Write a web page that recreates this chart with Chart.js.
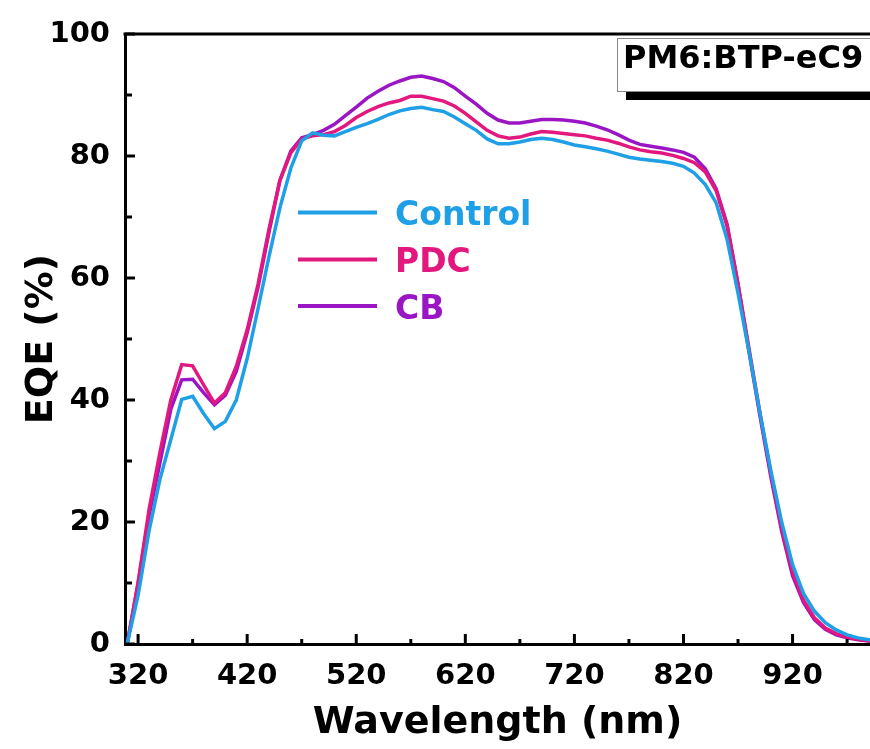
<!DOCTYPE html>
<html><head><meta charset="utf-8">
<script src="https://cdn.jsdelivr.net/npm/chart.js@4/dist/chart.umd.min.js"></script>
<style>html,body{margin:0;padding:0;background:#fff;overflow:hidden}#wrap{width:870px;height:749px;position:relative}</style>
</head><body><div id="wrap"><canvas id="c" width="870" height="749"></canvas></div>
<script>
const wavelengths = [310,320,330,340,350,360,370,380,390,400,410,420,430,440,450,460,470,480,490,500,510,520,530,540,550,560,570,580,590,600,610,620,630,640,650,660,670,680,690,700,710,720,730,740,750,760,770,780,790,800,810,820,830,840,850,860,870,880,890,900,910,920,930,940,950,960,970,980,990,1000];
const control = [0,8,18.5,27,33.5,40.1,40.6,37.8,35.3,36.5,40,46.8,55,63.5,71.5,78,82.5,83.8,83.4,83.3,84.0,84.7,85.3,86.0,86.8,87.4,87.8,88.0,87.6,87.3,86.4,85.3,84.2,82.8,82.0,82.0,82.3,82.7,82.9,82.7,82.3,81.8,81.5,81.2,80.8,80.3,79.8,79.5,79.3,79.1,78.8,78.3,77.2,75.3,72.3,66.3,57.5,48,38,28.5,20,13,8.3,5.4,3.5,2.3,1.5,1.0,0.7,0.5];
const pdc = [0,10,22,31.4,40,45.8,45.6,42.5,39.5,41.2,45.5,51.5,59,68,76,80.5,82.8,83.3,83.5,84.0,85.0,86.3,87.3,88.1,88.7,89.1,89.8,89.8,89.4,89.0,88.2,87.0,85.6,84.2,83.3,82.9,83.1,83.6,84.0,83.9,83.7,83.5,83.3,82.9,82.6,82.1,81.5,81.0,80.7,80.5,80.1,79.6,78.9,77.4,74.3,68.5,59,48.5,38,28,19,11.8,7.2,4.3,2.6,1.7,1.1,0.8,0.5,0.4];
const cb = [0,10,21,29.7,38.5,43.3,43.4,41.2,39.2,40.8,44.7,51,58.5,67.5,76,80.8,83,83.5,84.2,85.2,86.6,88.0,89.5,90.6,91.6,92.3,92.9,93.1,92.7,92.2,91.2,89.8,88.5,87.0,85.9,85.4,85.4,85.7,86.0,86.0,85.9,85.7,85.4,84.9,84.3,83.5,82.6,81.9,81.6,81.3,81.0,80.6,79.8,77.9,74.6,68.8,59,48,37.5,27.5,18.5,11.2,6.8,4.0,2.4,1.5,1.0,0.7,0.5,0.4];
const seriesNames = ['Control','PDC','CB'];
const seriesColors = ['#1E9FE6','#E2187E','#9A16C4'];
const xTickValues = [320,420,520,620,720,820,920];
const yTickValues = [0,20,40,60,80,100];
const xTitle = 'Wavelength (nm)';
const yTitle = 'EQE (%)';
const sampleLabel = 'PM6:BTP-eC9';

const FONT = "'DejaVu Sans', sans-serif";
const seriesValues = [control, pdc, cb];
const datasets = seriesNames.map((n,i)=>({
  label: n,
  data: wavelengths.map((w,j)=>({x:w, y:seriesValues[i][j]})),
  borderColor: seriesColors[i],
  backgroundColor: seriesColors[i],
  borderWidth: 3.5,
  pointRadius: 0,
  tension: 0,
  fill: false
}));

const decor = {
  id: 'decor',
  afterDatasetsDraw(chart) {
    const ctx = chart.ctx, a = chart.chartArea;
    const xs = chart.scales.x, ys = chart.scales.y;
    ctx.save();
    ctx.strokeStyle = '#000'; ctx.lineWidth = 3; ctx.lineCap = 'butt';
    ctx.beginPath(); ctx.moveTo(a.left - 1.5, a.top); ctx.lineTo(a.right, a.top); ctx.stroke();
    xTickValues.forEach(v => {
      const px = xs.getPixelForValue(v);
      ctx.beginPath(); ctx.moveTo(px, a.bottom); ctx.lineTo(px, a.bottom - 10); ctx.stroke();
      const m = xs.getPixelForValue(v + 50);
      if (m < a.right) { ctx.beginPath(); ctx.moveTo(m, a.bottom); ctx.lineTo(m, a.bottom - 5); ctx.stroke(); }
    });
    yTickValues.forEach(v => {
      const py = ys.getPixelForValue(v);
      ctx.beginPath(); ctx.moveTo(a.left, py); ctx.lineTo(a.left + 10, py); ctx.stroke();
      if (v < 100) {
        const m = ys.getPixelForValue(v + 10);
        ctx.beginPath(); ctx.moveTo(a.left, m); ctx.lineTo(a.left + 7, m); ctx.stroke();
      }
    });
    const legBase = [225, 272, 318.5];
    ctx.font = "bold 33px " + FONT;
    ctx.textBaseline = 'alphabetic'; ctx.textAlign = 'left';
    seriesNames.forEach((n,i) => {
      const ly = legBase[i] - 12.5;
      ctx.strokeStyle = seriesColors[i]; ctx.lineWidth = 4;
      ctx.beginPath(); ctx.moveTo(298, ly); ctx.lineTo(377, ly); ctx.stroke();
      ctx.fillStyle = seriesColors[i];
      ctx.fillText(n, 395, legBase[i]);
    });
    ctx.fillStyle = '#000';
    ctx.fillRect(626, 92, 260, 8);
    ctx.fillStyle = '#fff';
    ctx.fillRect(617.5, 38.5, 270, 53);
    ctx.strokeStyle = '#8a8a8a'; ctx.lineWidth = 1;
    ctx.strokeRect(617.5, 38.5, 270, 53);
    ctx.fillStyle = '#000';
    ctx.font = "bold 32px " + FONT;
    ctx.fillText(sampleLabel, 623, 68);
    ctx.restore();
  }
};

new Chart(document.getElementById('c'), {
  type: 'line',
  data: { datasets },
  options: {
    responsive: false,
    animation: false,
    devicePixelRatio: 1,
    layout: { padding: { top: 34, left: 0, right: 0, bottom: 0 } },
    plugins: { legend: { display: false }, tooltip: { enabled: false } },
    scales: {
      x: {
        type: 'linear', min: 308, max: 991,
        afterBuildTicks: s => { s.ticks = xTickValues.map(v => ({value: v})); },
        afterFit: s => { s.height = 105; },
        grid: { display: true, drawOnChartArea: false, drawTicks: false },
        border: { display: true, color: '#000', width: 3 },
        ticks: { color: '#000', padding: 15, maxRotation: 0, autoSkip: false, font: { family: FONT, weight: 'bold', size: 29 } },
        title: { display: true, text: xTitle, color: '#000', padding: { top: 0, bottom: 3 }, font: { family: FONT, weight: 'bold', size: 38 } }
      },
      y: {
        type: 'linear', min: 0, max: 100,
        afterBuildTicks: s => { s.ticks = yTickValues.map(v => ({value: v})); },
        afterFit: s => { s.width = 125; },
        grid: { display: true, drawOnChartArea: false, drawTicks: false },
        border: { display: true, color: '#000', width: 3 },
        ticks: { color: '#000', padding: 15, font: { family: FONT, weight: 'bold', size: 29 } },
        title: { display: true, text: yTitle, color: '#000', padding: { top: 19, bottom: 0 }, font: { family: FONT, weight: 'bold', size: 38 } }
      }
    }
  },
  plugins: [decor]
});
</script></body></html>
